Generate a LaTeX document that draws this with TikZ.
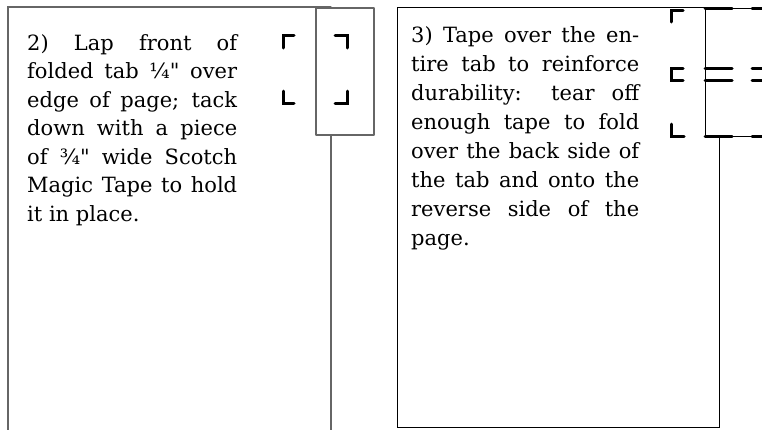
\documentclass[tikz,border=0pt]{standalone}
\usepackage{fontspec}
\setmainfont{DejaVu Serif}
\usepackage{tikz}
\usepackage{tkz-euclide}
\usetikzlibrary{arrows}
\definecolor{pageline}{gray}{0.4}
\tikzset{
    pageedge/.style={draw=pageline,line width=1.3pt},
    tabedge/.style={draw=black,line width=1pt},
    cropmark/.style={draw=black,line width=3pt},
    tapedash/.style={draw=black,line width=3pt,dash pattern=on 27pt off 20pt},
    steptext/.style={anchor=base west,inner sep=0pt,align=justify,
        font=\fontsize{21}{29}\selectfont}
}

\begin{document}
\begin{tikzpicture}[x=1pt,y=-1pt]
    \useasboundingbox (0,0) rectangle (762,429);

    \tkzDefPoints{8/432/L_BL,8/7/L_TL,331/7/L_TR,331/135/L_R,331/432/L_BR}
    \tkzDrawPolySeg[pageedge](L_BL,L_TL,L_TR)
    \tkzDrawSegment[pageedge](L_R,L_BR)

    \tkzDefPoints{316/8/T_TL,374/8/T_TR,374/135/T_BR,316/135/T_BL}
    \tkzDrawPolygon[pageedge,fill=white](T_TL,T_TR,T_BR,T_BL)

    \tkzDefPoints{283/48/M1_a,283/35/M1_b,294/35/M1_c,283/91/M2_a,283/103/M2_b,294/103/M2_c}
    \tkzDefPoints{335/35/M3_a,347/35/M3_b,347/48/M3_c,335/103/M4_a,347/103/M4_b,347/91/M4_c}
    \tkzDrawPolySeg[cropmark](M1_a,M1_b,M1_c)
    \tkzDrawPolySeg[cropmark](M2_a,M2_b,M2_c)
    \tkzDrawPolySeg[cropmark](M3_a,M3_b,M3_c)
    \tkzDrawPolySeg[cropmark](M4_a,M4_b,M4_c)

    \node[steptext,text width=210pt,font=\fontsize{21}{28.5}\selectfont] (lapnote) at (27,50) {2) Lap front of\linebreak
        folded tab ¼\textquotedbl{} over\linebreak edge of page; tack\linebreak
        down with a piece\linebreak of ¾\textquotedbl{} wide Scotch\linebreak
        Magic Tape to hold\linebreak it in place.};

    \tkzDefPoints{397/7/R_TL,720/7/R_TR,719/136/R_R,719/427/R_BR,397/427/R_BL}
    \tkzDrawPolySeg[tabedge](R_TR,R_TL,R_BL,R_BR,R_R)

    \tkzDefPoints{765/8/U_TR,705/8/U_TL,705/136/U_BL,765/136/U_BR,705/68/U_ML,765/68/U_MR,705/80/U_NL,765/80/U_NR}
    \tkzDrawPolySeg[tabedge,fill=white](U_TR,U_TL,U_BL,U_BR)
    \tkzDrawSegments[tapedash](U_TL,U_TR U_ML,U_MR U_NL,U_NR U_BL,U_BR)

    \tkzDefPoints{671/22/N1_a,671/10/N1_b,683/10/N1_c,683/68/N2_a,671/68/N2_b,671/80/N2_c,683/80/N2_d,671/124/N3_a,671/136/N3_b,684/136/N3_c}
    \tkzDrawPolySeg[cropmark](N1_a,N1_b,N1_c)
    \tkzDrawPolySeg[cropmark](N2_a,N2_b,N2_c,N2_d)
    \tkzDrawPolySeg[cropmark](N3_a,N3_b,N3_c)

    \node[steptext,text width=228pt] (tapenote) at (411,42) {3) Tape over the en-\linebreak
        tire tab to reinforce\linebreak durability: tear off\linebreak
        enough tape to fold\linebreak over the back side of\linebreak
        the tab and onto the\linebreak reverse side of the\linebreak page.};

\end{tikzpicture}
\end{document}
